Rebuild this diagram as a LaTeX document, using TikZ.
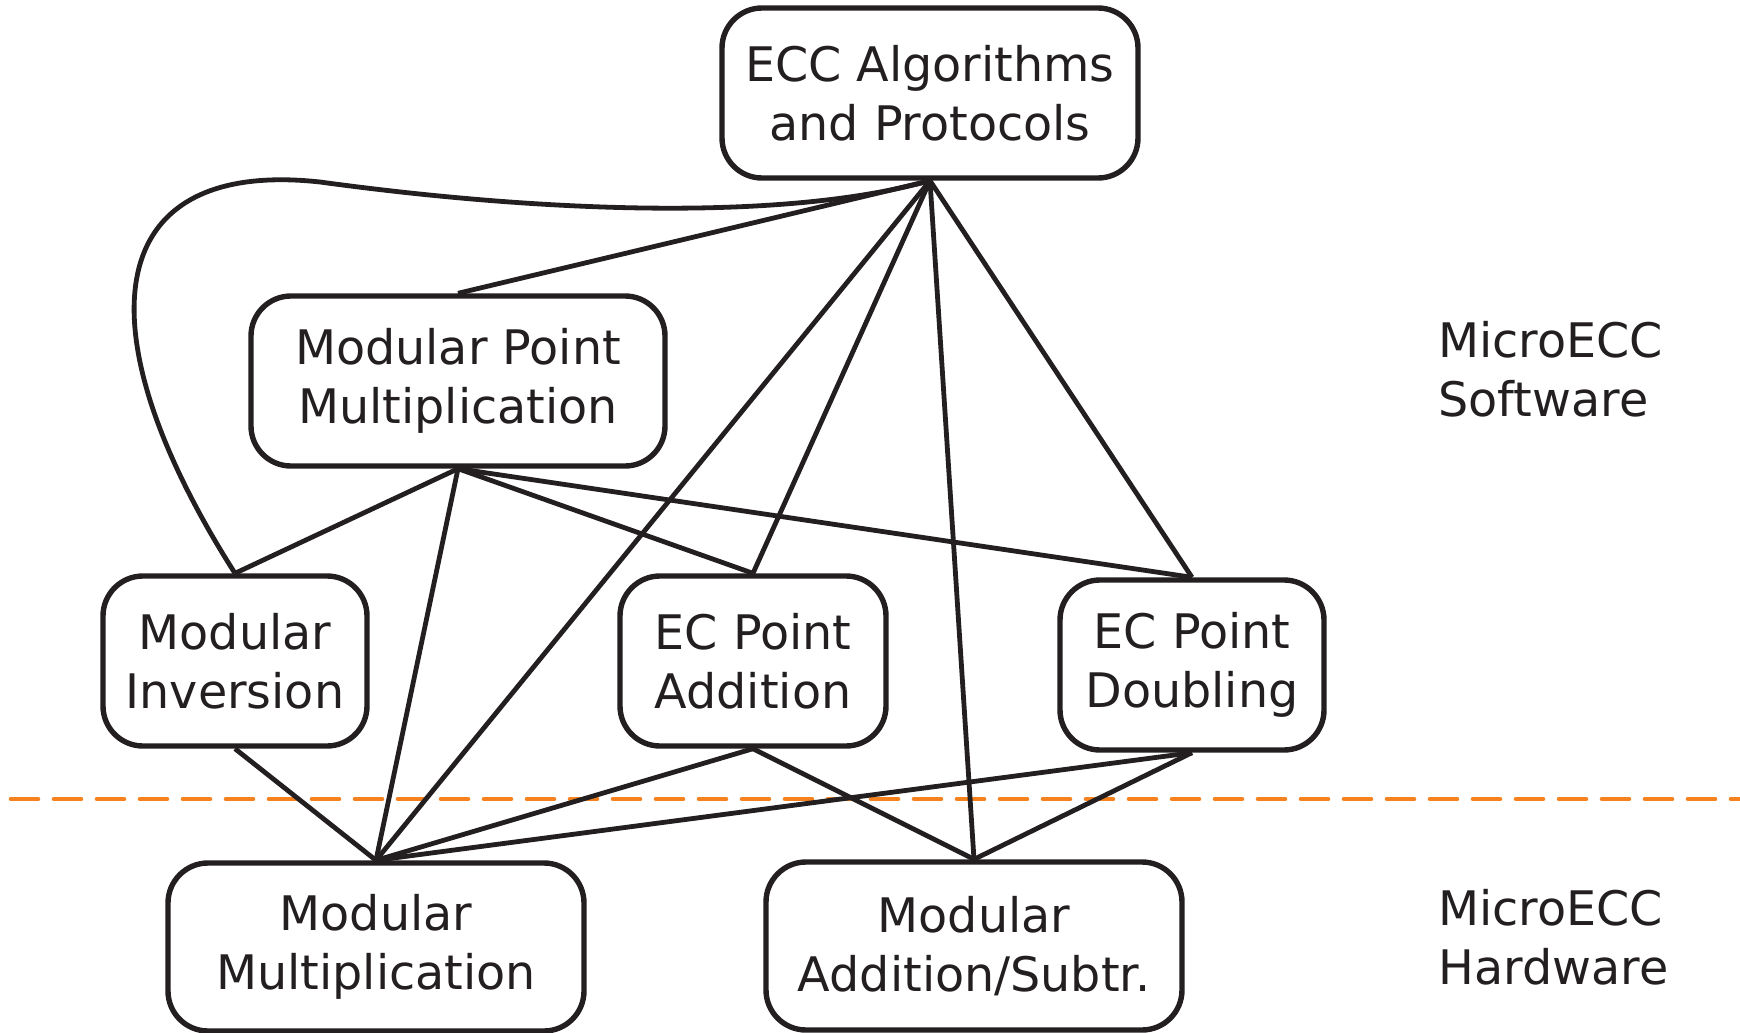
\documentclass[tikz,border=0pt]{standalone}
\usepackage{fontspec}
\setmainfont{DejaVu Sans}
\definecolor{ink}{HTML}{231F20}
\definecolor{dashorange}{HTML}{F5821F}
\begin{document}
\begin{tikzpicture}[x=0.5pt,y=-0.5pt,
  box/.style={draw=ink, line width=2.7pt, rounded corners=20pt, align=center,
    text=ink, inner sep=0pt, font=\fontsize{23.8}{29.5}\selectfont},
  link/.style={draw=ink, line width=2.4pt},
  lbl/.style={text=ink, align=left, inner sep=0pt, anchor=west, font=\fontsize{23.8}{29.5}\selectfont}]
\useasboundingbox (0,0) rectangle (1740,1033);
\node[box, minimum width=208pt, minimum height=85pt] (top) at (930,93) {ECC Algorithms\\and Protocols};
\node[box, minimum width=207pt, minimum height=85pt] (mpm) at (458,381) {Modular Point\\Multiplication};
\node[box, minimum width=132pt, minimum height=85pt] (inv) at (235,661) {Modular\\Inversion};
\node[box, minimum width=133pt, minimum height=85pt] (add) at (753,661) {EC Point\\Addition};
\node[box, minimum width=132pt, minimum height=85pt] (dbl) at (1192,665) {EC Point\\Doubling};
\node[box, minimum width=208pt, minimum height=84pt] (mm) at (376,947) {Modular\\Multiplication};
\node[box, minimum width=208pt, minimum height=84pt] (mas) at (974,946) {Modular\\Addition/Subtr.};
\node[lbl] (sw) at (1438,369) {MicroECC\\Software};
\node[lbl] (hw) at (1438,937) {MicroECC\\Hardware};
\coordinate (dl) at (11,799);
\coordinate (dr) at (1740,799);
\draw[dashorange, line width=2.3pt, line cap=round, dash pattern=on 13.5pt off 8pt] (dl) -- (dr);
% from top
\draw[link] (top.south) -- (mpm.north);
\draw[link] (top.south) .. controls (780,222) and (540,212) .. (320,182)
  .. controls (100,158) and (80,330) .. (inv.north);
\draw[link] (top.south) -- (mm.north);
\draw[link] (top.south) -- (add.north);
\draw[link] (top.south) -- (mas.north);
\draw[link] (top.south) -- (dbl.north);
% from mpm
\draw[link] (mpm.south) -- (inv.north);
\draw[link] (mpm.south) -- (mm.north);
\draw[link] (mpm.south) -- (add.north);
\draw[link] (mpm.south) -- (dbl.north);
% lower
\draw[link] (inv.south) -- (mm.north);
\draw[link] (add.south) -- (mm.north);
\draw[link] (add.south) -- (mas.north);
\draw[link] (dbl.south) -- (mm.north);
\draw[link] (dbl.south) -- (mas.north);
\end{tikzpicture}
\end{document}
